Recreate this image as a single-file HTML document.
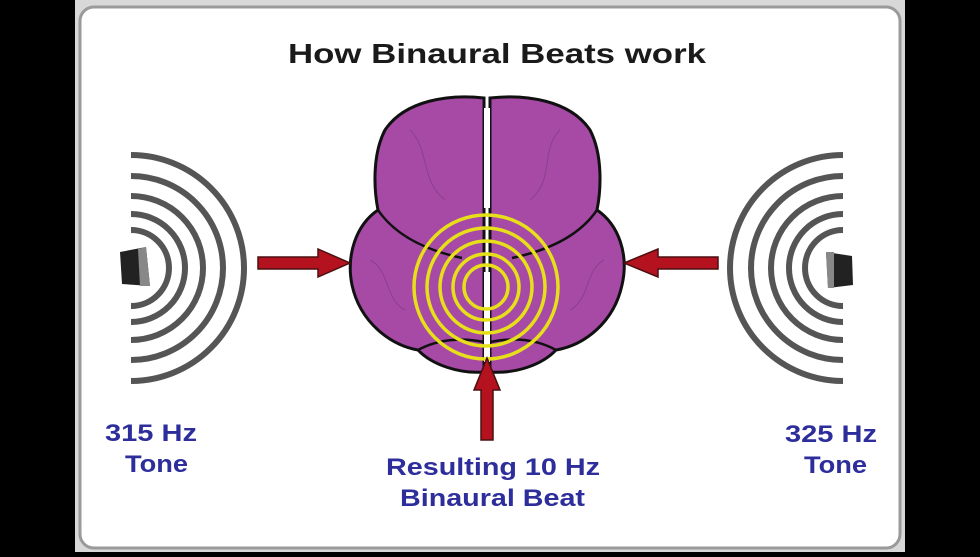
<!DOCTYPE html>
<html><head><style>
html,body{margin:0;padding:0;background:#000;}
body{width:980px;height:552px;overflow:hidden;position:relative;}
</style></head><body>
<svg width="980" height="552" viewBox="0 0 980 552" xmlns="http://www.w3.org/2000/svg">
<rect x="0" y="0" width="980" height="552" fill="#000"/>
<rect x="75" y="-2" width="830" height="556" fill="#d8d8d8"/>
<rect x="80" y="7" width="820" height="541" rx="14" fill="#fff" stroke="#9a9a9a" stroke-width="3"/>
<text x="288" y="63" textLength="418" lengthAdjust="spacingAndGlyphs" font-family="Liberation Sans, sans-serif" font-size="28" font-weight="bold" fill="#1a1a1a">How Binaural Beats work</text>
<g fill="none" stroke="#555" stroke-width="6">
<path d="M131 155 A113 113 0 0 1 131 381"/>
<path d="M131 176 A92 92 0 0 1 131 360"/>
<path d="M131 196 A72 72 0 0 1 131 340"/>
<path d="M131 214 A54 54 0 0 1 131 322"/>
<path d="M131 230 A38 38 0 0 1 131 306"/>
</g>
<path d="M120 252 L146 247 L150 286 L122 284 Z" fill="#222"/>
<path d="M138 249 L146 247 L150 286 L140 286 Z" fill="#888"/>
<g fill="none" stroke="#555" stroke-width="6">
<path d="M843 155 A113 113 0 0 0 843 381"/>
<path d="M843 176 A92 92 0 0 0 843 360"/>
<path d="M843 196 A72 72 0 0 0 843 340"/>
<path d="M843 214 A54 54 0 0 0 843 322"/>
<path d="M843 230 A38 38 0 0 0 843 306"/>
</g>
<path d="M826 252 L852 256 L853 285 L828 288 Z" fill="#222"/>
<path d="M826 252 L834 252 L834 288 L828 288 Z" fill="#888"/>
<g stroke="#111" stroke-width="3" fill="#a64aa6">
<path d="M484 98 C450 94 405 100 385 130 C372 155 374 190 378 210 C356 225 346 255 352 285 C360 322 390 345 418 350 C432 365 460 374 484 372 Z"/>
<path d="M490 98 C525 94 570 100 590 130 C603 155 601 190 597 210 C619 225 629 255 622 285 C614 322 585 345 556 350 C542 365 515 374 490 372 Z"/>
</g>
<g stroke="#111" stroke-width="2.5" fill="none">
<path d="M378 210 C395 235 425 250 462 258"/>
<path d="M597 210 C580 235 550 250 512 258"/>
<path d="M418 350 C440 338 465 338 484 342"/>
<path d="M556 350 C534 338 510 338 490 342"/>
</g>
<g stroke="#7a3a7a" stroke-width="1" fill="none" opacity="0.6">
<path d="M410 130 C430 150 420 180 445 200"/>
<path d="M560 130 C540 150 555 180 530 200"/>
<path d="M370 260 C390 270 385 300 405 310"/>
<path d="M604 260 C585 270 590 300 570 310"/>
</g>
<rect x="484" y="108" width="6" height="100" fill="#fff"/>
<rect x="484" y="272" width="6" height="90" fill="#fff"/>
<g fill="none" stroke="#e6df1a" stroke-width="3.5">
<circle cx="486" cy="287" r="72"/>
<circle cx="486" cy="287" r="59"/>
<circle cx="486" cy="287" r="46"/>
<circle cx="486" cy="287" r="33"/>
<circle cx="486" cy="287" r="22"/>
</g>
<g fill="#b3121e" stroke="#4a1010" stroke-width="1.5">
<path d="M258 257 L318 257 L318 249 L350 263 L318 277 L318 269 L258 269 Z"/>
<path d="M718 257 L658 257 L658 249 L624 263 L658 277 L658 269 L718 269 Z"/>
<path d="M481 440 L481 390 L474 390 L487 358 L500 390 L493 390 L493 440 Z"/>
</g>
<g font-family="Liberation Sans, sans-serif" font-size="24" font-weight="bold" fill="#2d2d9b" lengthAdjust="spacingAndGlyphs">
<text x="105" y="441" textLength="92" lengthAdjust="spacingAndGlyphs">315 Hz</text>
<text x="125" y="472" textLength="63" lengthAdjust="spacingAndGlyphs">Tone</text>
<text x="785" y="442" textLength="92" lengthAdjust="spacingAndGlyphs">325 Hz</text>
<text x="804" y="473" textLength="63" lengthAdjust="spacingAndGlyphs">Tone</text>
<text x="386" y="475" textLength="214" lengthAdjust="spacingAndGlyphs">Resulting 10 Hz</text>
<text x="400" y="506" textLength="185" lengthAdjust="spacingAndGlyphs">Binaural Beat</text>
</g>
</svg>
</body></html>
